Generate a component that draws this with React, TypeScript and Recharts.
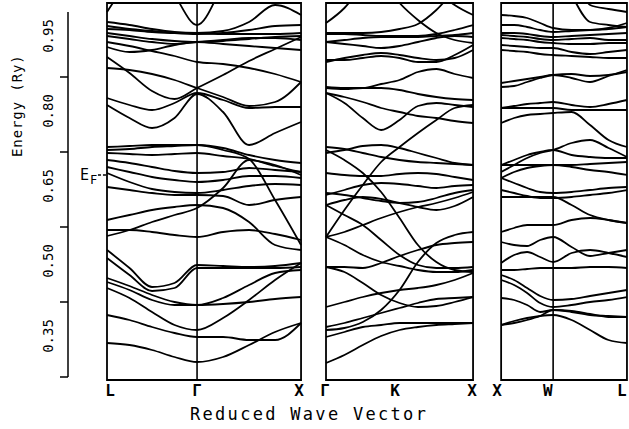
import React from 'react';
import { LineChart, Line, XAxis, YAxis, ReferenceLine, ReferenceArea, Label } from 'recharts';

// k-path sample positions (units of 2pi/a), the three panels separated by gaps
const kLGX = [0, 0.2165, 0.433, 0.6495, 0.866, 1.116, 1.366, 1.616, 1.866];
const kGKX = [2.106, 2.283, 2.46, 2.636, 2.813, 2.99, 3.167, 3.343, 3.52];
const kXWL = [3.79, 3.915, 4.04, 4.165, 4.29, 4.4675, 4.645, 4.8225, 5.0];

// band energies in mRy (values above ~1100 leave the frame)
const bandsLGX = [
  [1080, 1144, 1184, 1184, 1184, 1184, 1184, 1184, 1184],
  [1224, 1224, 1184, 1114, 1054, 1134, 1224, 1224, 1224],
  [1060, 1054, 1046, 1040, 1038, 1042, 1060, 1094, 1074],
  [1052, 1046, 1042, 1038, 1036, 1038, 1044, 1052, 1054],
  [1046, 1044, 1040, 1038, 1038, 1036, 1036, 1036, 1038],
  [1038, 1032, 1026, 1022, 1020, 1022, 1026, 1030, 1032],
  [1032, 1026, 1020, 1016, 1020, 1024, 1028, 1028, 1024],
  [1020, 1012, 1002, 992, 980, 976, 968, 956, 940],
  [1010, 1000, 1004, 1014, 1020, 1016, 1012, 1008, 1004],
  [990, 958, 922, 906, 928, 954, 982, 1006, 1030],
  [968, 964, 956, 944, 928, 910, 892, 900, 940],
  [908, 894, 884, 898, 918, 904, 888, 890, 890],
  [894, 868, 848, 868, 916, 880, 814, 838, 860],
  [810, 812, 814, 814, 814, 808, 794, 784, 778],
  [804, 806, 810, 812, 814, 804, 786, 704, 614],
  [798, 796, 794, 796, 798, 792, 786, 772, 760],
  [784, 778, 770, 762, 758, 760, 768, 764, 760],
  [770, 760, 750, 744, 740, 744, 752, 752, 748],
  [758, 740, 726, 720, 718, 724, 732, 736, 734],
  [730, 724, 718, 714, 714, 712, 694, 704, 710],
  [632, 644, 660, 674, 688, 728, 784, 774, 754],
  [664, 674, 684, 690, 694, 688, 660, 614, 604],
  [644, 644, 640, 634, 630, 640, 644, 636, 624],
  [604, 568, 530, 538, 574, 572, 570, 572, 578],
  [588, 554, 522, 528, 568, 568, 568, 568, 570],
  [548, 532, 514, 500, 494, 496, 500, 506, 510],
  [540, 524, 504, 494, 494, 508, 534, 558, 564],
  [528, 508, 480, 454, 444, 468, 504, 544, 578],
  [474, 464, 450, 438, 430, 430, 424, 424, 458],
  [418, 414, 404, 390, 380, 390, 414, 440, 458],
];

const bandsGKX = [
  [1058, 1088, 1134, 1184, 1184, 1184, 1184, 1184, 1184],
  [1184, 1184, 1184, 1144, 1098, 1064, 1038, 1024, 1018],
  [1038, 1038, 1038, 1040, 1046, 1056, 1084, 1124, 1164],
  [1184, 1184, 1184, 1184, 1184, 1164, 1124, 1094, 1074],
  [1036, 1036, 1034, 1032, 1032, 1032, 1036, 1044, 1054],
  [1020, 1024, 1028, 1030, 1030, 1030, 1032, 1034, 1038],
  [1020, 1016, 1012, 1008, 1012, 1020, 1028, 1032, 1030],
  [980, 988, 994, 998, 994, 988, 984, 988, 1004],
  [984, 984, 988, 992, 988, 980, 980, 994, 1014],
  [930, 928, 928, 936, 944, 960, 966, 956, 948],
  [918, 910, 900, 888, 880, 872, 868, 862, 858],
  [918, 898, 868, 844, 864, 892, 898, 894, 890],
  [928, 926, 928, 928, 924, 916, 910, 906, 904],
  [630, 684, 734, 780, 810, 838, 864, 888, 894],
  [444, 448, 460, 484, 524, 580, 618, 634, 640],
  [804, 784, 758, 720, 668, 614, 580, 564, 560],
  [810, 806, 798, 790, 784, 780, 778, 776, 774],
  [798, 804, 812, 814, 808, 798, 788, 778, 774],
  [758, 754, 752, 752, 756, 758, 756, 750, 744],
  [714, 724, 734, 738, 736, 732, 728, 732, 734],
  [718, 714, 708, 702, 698, 700, 708, 718, 724],
  [694, 704, 710, 706, 698, 690, 684, 692, 710],
  [694, 674, 654, 624, 594, 574, 568, 568, 570],
  [630, 640, 654, 668, 680, 690, 698, 708, 720],
  [630, 614, 594, 580, 572, 564, 560, 560, 564],
  [570, 570, 568, 578, 592, 604, 614, 618, 620],
  [570, 560, 538, 514, 498, 490, 492, 500, 510],
  [490, 500, 510, 518, 524, 528, 534, 544, 558],
  [450, 458, 468, 478, 488, 498, 506, 508, 510],
  [430, 440, 450, 454, 458, 458, 458, 458, 458],
  [378, 394, 414, 432, 444, 450, 454, 456, 458],
];

const bandsXWL = [
  [1184, 1184, 1184, 1184, 1184, 1114, 1060, 1054, 1050],
  [1184, 1184, 1184, 1184, 1184, 1164, 1094, 1086, 1080],
  [1074, 1072, 1068, 1058, 1048, 1044, 1044, 1048, 1058],
  [1054, 1054, 1050, 1044, 1040, 1042, 1044, 1046, 1050],
  [1038, 1038, 1036, 1032, 1030, 1032, 1034, 1036, 1038],
  [1034, 1032, 1030, 1026, 1024, 1026, 1028, 1024, 1024],
  [1028, 1026, 1024, 1020, 1018, 1016, 1016, 1018, 1018],
  [1004, 1002, 1000, 996, 994, 992, 990, 988, 988],
  [1014, 1012, 1010, 1008, 1008, 1000, 996, 1000, 1004],
  [938, 942, 946, 950, 954, 948, 940, 952, 964],
  [930, 932, 940, 948, 954, 956, 952, 954, 960],
  [888, 892, 896, 898, 900, 894, 890, 896, 904],
  [888, 888, 888, 888, 888, 884, 884, 884, 884],
  [858, 868, 874, 876, 878, 880, 854, 824, 810],
  [774, 784, 794, 800, 804, 794, 790, 788, 788],
  [760, 774, 788, 798, 804, 818, 824, 808, 790],
  [774, 774, 774, 774, 774, 774, 776, 778, 780],
  [748, 760, 768, 772, 774, 770, 764, 760, 754],
  [748, 738, 728, 720, 718, 720, 724, 728, 730],
  [724, 718, 712, 708, 708, 710, 714, 718, 724],
  [710, 710, 710, 710, 710, 694, 674, 664, 658],
  [640, 648, 654, 654, 654, 664, 668, 664, 658],
  [620, 614, 612, 624, 630, 610, 592, 598, 604],
  [578, 594, 600, 590, 580, 598, 604, 598, 590],
  [564, 564, 566, 568, 568, 568, 570, 570, 568],
  [554, 544, 528, 512, 504, 506, 512, 518, 524],
  [544, 534, 518, 498, 490, 494, 500, 504, 510],
  [508, 504, 494, 480, 484, 480, 474, 472, 470],
  [454, 462, 468, 472, 474, 464, 444, 424, 418],
  [454, 458, 464, 472, 484, 482, 476, 470, 470],
];

// panel frames [start, end] and interior symmetry lines
const panelRanges = [[0, 1.866], [2.106, 3.52], [3.79, 5.0]];
const innerLines = [0.866, 4.29];

const symLabels = ['L', 'Γ', 'X', 'Γ', 'K', 'X', 'X', 'W', 'L'];
const symLabelPos = [0.03, 0.866, 1.846, 2.096, 2.77, 3.51, 3.75, 4.24, 4.95];

const energyTicks = [0.35, 0.5, 0.65, 0.8, 0.95];
const fermiEnergy = 0.754;

const X_DOMAIN: [number, number] = [-0.375, 5.01];
const Y_DOMAIN: [number, number] = [0.344, 1.098];
const FONT = '"DejaVu Sans Mono", monospace';

const series = [
  { k: kLGX, bands: bandsLGX },
  { k: kGKX, bands: bandsGKX },
  { k: kXWL, bands: bandsXWL },
].flatMap((p, pi) =>
  p.bands.map((b, bi) => ({
    id: `p${pi}-b${bi}`,
    data: b.map((e, i) => ({ k: p.k[i], e: e / 1000 })),
  }))
);

const SymTick = (props: any) => {
  const { x, index } = props;
  return (
    <text x={x} y={396} textAnchor="middle" fontSize={16} fontWeight="bold" fontFamily={FONT} fill="#000">
      {symLabels[index]}
    </text>
  );
};

const EnergyTick = (props: any) => {
  const { y, payload } = props;
  const ly = y - 41;
  return (
    <g>
      <line x1={60} x2={68} y1={y} y2={y} stroke="#000" strokeWidth={1.5} />
      <text
        x={53}
        y={ly}
        transform={`rotate(-90, 53, ${ly})`}
        textAnchor="middle"
        fontSize={14}
        fontFamily={FONT}
        fill="#000"
      >
        {payload.value.toFixed(2)}
      </text>
    </g>
  );
};

export default function App() {
  return (
    <div style={{ position: 'absolute', left: 0, top: 0, width: 629, height: 429, background: '#fff' }}>
      <LineChart width={629} height={429} margin={{ top: 3, right: 1, bottom: 4, left: 0 }}>
        <XAxis
          type="number"
          dataKey="k"
          domain={X_DOMAIN}
          allowDataOverflow
          ticks={symLabelPos}
          interval={0}
          axisLine={false}
          tickLine={false}
          tick={<SymTick />}
          height={45}
        >
          <Label
            content={() => (
              <text x={190} y={420} fontSize={17} letterSpacing={2.3} fontFamily={FONT} fill="#000">
                Reduced Wave Vector
              </text>
            )}
          />
        </XAxis>
        <YAxis
          type="number"
          domain={Y_DOMAIN}
          allowDataOverflow
          ticks={energyTicks}
          interval={0}
          axisLine={false}
          tickLine={false}
          tick={<EnergyTick />}
          width={68}
        >
          <Label
            content={() => (
              <text
                x={22}
                y={157}
                transform="rotate(-90, 22, 157)"
                fontSize={14}
                letterSpacing={0.9}
                fontFamily={FONT}
                fill="#000"
              >
                Energy (Ry)
              </text>
            )}
          />
        </YAxis>

        {panelRanges.map(([a, b], i) => (
          <ReferenceArea
            key={`frame${i}`}
            x1={a}
            x2={b}
            y1={Y_DOMAIN[0]}
            y2={Y_DOMAIN[1]}
            fill="none"
            stroke="#000"
            strokeWidth={1.8}
            ifOverflow="visible"
          />
        ))}
        {innerLines.map((k) => (
          <ReferenceLine key={`sym${k}`} x={k} stroke="#000" strokeWidth={1.6} />
        ))}

        <ReferenceLine
          segment={[{ x: X_DOMAIN[0], y: 0.35 }, { x: X_DOMAIN[0], y: 1.08 }]}
          stroke="#000"
          strokeWidth={1.5}
          ifOverflow="visible"
        />
        <ReferenceLine
          segment={[{ x: -0.087, y: fermiEnergy }, { x: 0, y: fermiEnergy }]}
          stroke="#000"
          strokeWidth={1.4}
          strokeDasharray="3 2"
          ifOverflow="visible"
          label={{
            content: () => (
              <g fontFamily={FONT} fill="#000">
                <text x={80} y={180} fontSize={15}>E</text>
                <text x={90} y={184} fontSize={12}>F</text>
              </g>
            ),
          }}
        />

        {series.map((s) => (
          <Line
            key={s.id}
            data={s.data}
            dataKey="e"
            type="monotone"
            stroke="#000"
            strokeWidth={1.8}
            dot={false}
            activeDot={false}
            isAnimationActive={false}
          />
        ))}
      </LineChart>
    </div>
  );
}
